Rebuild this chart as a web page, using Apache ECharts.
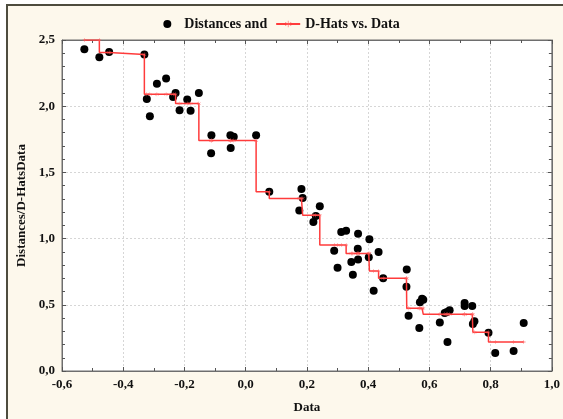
<!DOCTYPE html>
<html><head><meta charset="utf-8">
<script src="https://cdn.jsdelivr.net/npm/echarts@6/dist/echarts.min.js"></script>
<style>html,body{margin:0;padding:0;background:#fff}#c{width:563px;height:419px}</style>
</head><body><div id="c"></div>
<script>
const dataX = [-0.527,-0.478,-0.446,-0.331,-0.323,-0.313,-0.290,-0.260,-0.237,-0.229,
  -0.216,-0.191,-0.180,-0.153,-0.113,-0.112,-0.050,-0.049,-0.039,0.034,
  0.077,0.175,0.182,0.186,0.221,0.229,0.242,0.289,0.300,0.312,
  0.328,0.345,0.350,0.366,0.367,0.367,0.402,0.404,0.418,0.434,
  0.449,0.525,0.526,0.532,0.567,0.569,0.576,0.580,0.634,0.650,
  0.657,0.659,0.666,0.715,0.715,0.740,0.742,0.747,0.793,0.815,
  0.875,0.908];
const distances = [2.43,2.37,2.41,2.39,2.055,1.925,2.17,2.21,2.07,2.10,
  1.97,2.05,1.965,2.10,1.645,1.78,1.78,1.685,1.77,1.78,
  1.353,1.213,1.374,1.306,1.125,1.17,1.245,0.908,0.78,1.049,
  1.059,0.823,0.727,0.923,0.843,1.036,0.86,0.996,0.606,0.898,
  0.70,0.636,0.767,0.418,0.325,0.52,0.546,0.538,0.367,0.438,
  0.445,0.219,0.458,0.513,0.49,0.49,0.355,0.375,0.289,0.136,
  0.151,0.362];
const dHats = [2.50,2.50,2.405,2.39,2.09,2.09,2.09,2.09,2.09,2.09,
  2.02,2.02,2.02,2.02,1.74,1.74,1.74,1.74,1.74,1.74,
  1.353,1.303,1.303,1.303,1.177,1.177,1.177,0.951,0.951,0.951,
  0.951,0.888,0.888,0.888,0.888,0.888,0.888,0.888,0.755,0.755,
  0.70,0.70,0.70,0.473,0.473,0.473,0.473,0.473,0.428,0.428,
  0.428,0.428,0.428,0.428,0.428,0.428,0.428,0.292,0.292,0.219,
  0.219,0.219];
const xTicks = {min:-0.6, max:1.0, interval:0.2};
const yTicks = {min:0.0, max:2.5, interval:0.5};
const seriesNames = ['Distances and','D-Hats vs. Data'];
const axisNames = {x:'Data', y:'Distances/D-HatsData'};

const FONT = 'Liberation Serif';
const fmt = v => (Math.round(v*10)/10).toFixed(1).replace('.', ',');
const scatterData = dataX.map((x,i)=>[x, distances[i]]);
const hatData = dataX.map((x,i)=>[x, dHats[i]]);
const asterisk = 'path://M4.6,0L5.4,0L5.4,4.2L9,2.2L9.4,2.9L5.8,5L9.4,7.1L9,7.8L5.4,5.8L5.4,10L4.6,10L4.6,5.8L1,7.8L0.6,7.1L4.2,5L0.6,2.9L1,2.2L4.6,4.2Z';

const tickStyle = {color:'#555'};
function mk(extra, minorSplit){
  return Object.assign({
    axisLine:{show:true, onZero:false, lineStyle:{color:'#6e6e6e', width:1}},
    axisTick:{show:true, inside:true, length:4, lineStyle:tickStyle},
    minorTick:{show:true, splitNumber:minorSplit, length:3, lineStyle:tickStyle},
  }, extra);
}
const chart = echarts.init(document.getElementById('c'), null, {renderer:'canvas'});
chart.setOption({
  backgroundColor:'#ffffff',
  animation:false,
  graphic:[{type:'rect', z:-10, silent:true, shape:{x:7, y:5, width:620, height:460},
    style:{fill:'#fdf8ec', stroke:'#4e4c3e', lineWidth:2}}],
  legend:{
    top:12, left:'center', itemGap:8, itemWidth:24, itemHeight:8,
    textStyle:{fontFamily:FONT, fontWeight:'bold', fontSize:14, color:'#111'},
    data:[{name:seriesNames[0], icon:'circle'}, {name:seriesNames[1]}]
  },
  grid:{left:62, right:10, top:40, bottom:48, show:true, backgroundColor:'#ffffff', borderColor:'#6e6e6e', borderWidth:1},
  xAxis:[mk({
    type:'value', min:xTicks.min, max:xTicks.max, interval:xTicks.interval,
    name:axisNames.x, nameLocation:'middle', nameGap:30,
    nameTextStyle:{fontFamily:FONT, fontWeight:'bold', fontSize:13, color:'#111'},
    axisLabel:{margin:7, formatter:fmt, fontFamily:FONT, fontWeight:'bold', fontSize:13, color:'#111'},
    splitLine:{show:true, lineStyle:{color:'#d6d6d6', type:[2,2]}},
  }, 2),
  mk({
    type:'value', position:'top', min:xTicks.min, max:xTicks.max, interval:xTicks.interval,
    axisLabel:{show:false}, splitLine:{show:false}
  }, 2)],
  yAxis:[mk({
    type:'value', min:yTicks.min, max:yTicks.max, interval:yTicks.interval,
    name:axisNames.y, nameLocation:'middle', nameGap:34,
    nameTextStyle:{fontFamily:FONT, fontWeight:'bold', fontSize:13, color:'#111'},
    axisLabel:{margin:7, formatter:fmt, fontFamily:FONT, fontWeight:'bold', fontSize:13, color:'#111'},
    splitLine:{show:true, lineStyle:{color:'#d6d6d6', type:[2,2]}},
  }, 5),
  mk({
    type:'value', position:'right', min:yTicks.min, max:yTicks.max, interval:yTicks.interval,
    axisLabel:{show:false}, splitLine:{show:false}
  }, 5)],
  series:[
    {name:seriesNames[0], type:'scatter', data:scatterData, symbol:'circle', symbolSize:8,
     itemStyle:{color:'#000', opacity:1}, z:3},
    {name:seriesNames[1], type:'line', step:'start', data:hatData, symbol:asterisk, symbolSize:4,
     showSymbol:true, lineStyle:{color:'#ff3b3b', width:1.5}, itemStyle:{color:'#ff5a5a'}, z:4}
  ]
});
</script></body></html>
